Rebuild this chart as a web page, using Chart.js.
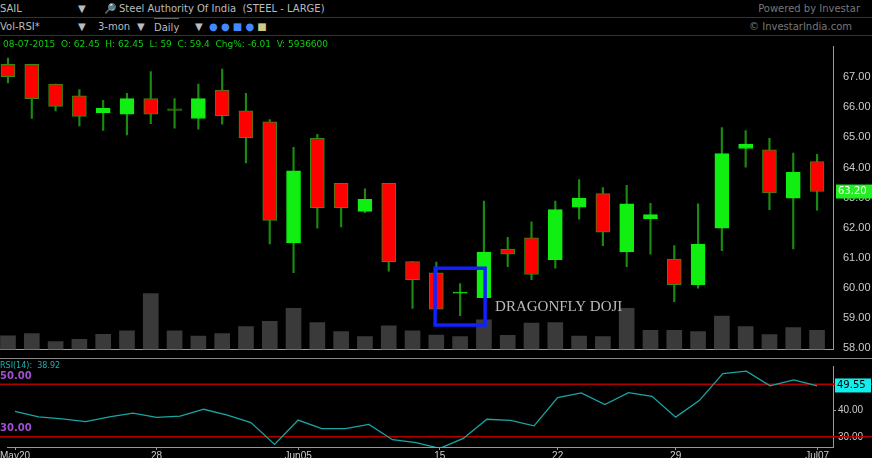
<!DOCTYPE html>
<html><head><meta charset="utf-8">
<script src="https://cdn.jsdelivr.net/npm/chart.js@4/dist/chart.umd.min.js"></script>
<style>
body{margin:0;background:#000;width:872px;height:458px;overflow:hidden;font-family:"DejaVu Sans",sans-serif;position:relative}
.hdr{position:absolute;left:0;width:872px;height:17px;background:#000;color:#bbb;font-size:10px;line-height:17px;border-bottom:1px solid #333}
.hdr span{position:absolute;top:0}
#c1{position:absolute;left:0;top:38px}
#c2{position:absolute;left:0;top:358px}
.ov{position:absolute;font-size:9px;white-space:pre}
</style></head><body>
<div class="hdr" style="top:0"><span style="left:0">SAIL</span><span style="left:78px">▼</span><span style="left:104px">🔎</span><span style="left:119px">Steel Authority Of India&nbsp; (STEEL - LARGE)</span><span style="right:12px;color:#777">Powered by Investar</span></div>
<div class="hdr" style="top:18px"><span style="left:0">Vol-RSI*</span><span style="left:78px">▼</span><span style="left:98px">3-mon</span><span style="left:137px">▼</span><span style="left:154px;border-top:1px solid #666">Daily</span><span style="left:195px">▼</span><span style="left:209px;color:#48f">●&nbsp;●&nbsp;■&nbsp;●&nbsp;<span style="color:#cc8">■</span></span><span style="right:20px;color:#777">© InvestarIndia.com</span></div>
<canvas id="c1" width="872" height="320"></canvas>
<canvas id="c2" width="872" height="104"></canvas>
<div class="ov" style="left:3px;top:39px;color:#1c1">08-07-2015  O: 62.45  H: 62.45  L: 59  C: 59.4  Chg%: -6.01  V: 5936600</div>
<script>
const opens  =[67.43,67.43,66.77,66.38,65.82,65.77,66.29,65.95,65.63,66.57,65.88,65.52,61.49,64.97,63.47,62.54,63.47,60.87,60.50,59.82,59.67,61.29,61.66,60.93,62.68,63.13,61.19,62.30,60.95,60.10,61.98,64.63,64.59,62.98,64.20];
const closes =[67.02,66.29,66.03,65.70,65.97,66.29,65.77,65.90,66.29,65.72,64.99,62.24,63.89,62.66,62.66,62.94,60.87,60.27,59.29,59.86,61.19,61.12,60.44,62.60,62.98,61.85,62.79,62.43,60.10,61.45,64.46,64.78,63.15,63.84,63.20];
const highs  =[67.64,67.43,66.77,66.59,66.23,66.47,67.19,66.29,66.77,67.27,66.47,65.59,64.67,65.10,63.47,63.29,63.47,60.87,60.85,60.14,62.88,61.68,62.19,62.88,63.60,63.33,63.41,62.81,61.40,62.79,65.33,65.23,64.97,64.48,64.44];
const lows   =[66.81,65.63,65.88,65.38,65.23,65.08,65.46,65.31,65.27,65.44,64.15,61.46,60.50,61.98,62.02,62.50,60.55,59.31,59.29,59.07,59.67,60.70,60.27,60.65,62.28,61.40,60.70,61.12,59.54,59.99,61.23,64.01,62.60,61.29,62.58];
const volumes=[3.5,4.1,2.0,2.6,3.9,4.8,14.4,4.8,3.4,4.1,5.9,7.2,10.6,6.9,4.6,3.3,6.1,4.8,3.7,3.3,7.6,3.6,6.8,6.9,3.4,3.3,10.6,4.9,4.9,4.6,8.6,5.9,3.8,5.6,4.9];
const rsi    =[39.7,37.6,36.8,35.8,37.6,39.0,37.4,37.9,40.5,38.3,35.4,27.1,36.4,33.1,33.1,34.7,28.9,27.8,25.6,29.4,36.7,36.3,34.2,44.9,46.7,42.3,46.8,45.4,37.5,43.8,54.1,55.0,49.4,51.7,49.4];
const dateTickIdx=[0,6,12,18,23,28,34];
const dateTickLabels=["May20","28","Jun05","15","22","29","Jul07"];
const priceTicks=[58,59,60,61,62,63,64,65,66,67];
const rsiTicks=[30,40,50];
const rsiLevels=[50,30];
const lastPrice=63.20, lastRsi=49.55;
const dojiBox={x0:17.95,x1:20.05,y0:60.65,y1:58.76,label:"DRAGONFLY DOJI"};

const idx=opens.map((_,i)=>i);
const up=idx.map(i=>closes[i]>=opens[i]);
const XMIN=-0.336, XMAX=34.67, AXW=39;
const fitW=s=>{s.width=AXW;};

const boxPlugin={id:'box',afterDatasetsDraw(ch){
  const {ctx,scales:{x,y}}=ch;
  const a=x.getPixelForValue(dojiBox.x0),b=x.getPixelForValue(dojiBox.x1);
  const t=y.getPixelForValue(dojiBox.y0),u=y.getPixelForValue(dojiBox.y1);
  ctx.save();ctx.strokeStyle='#1020ff';ctx.lineWidth=3.5;ctx.strokeRect(a,t,b-a,u-t);
  ctx.fillStyle='#bbb';ctx.font='15px "Liberation Serif",serif';ctx.textBaseline='middle';
  ctx.fillText(dojiBox.label,b+10,y.getPixelForValue(59.35));
  const py=y.getPixelForValue(lastPrice);
  ctx.fillStyle='#22ee22';ctx.fillRect(x.right+3,py-7,36,14);
  ctx.fillStyle='#fff';ctx.font='10px "DejaVu Sans"';ctx.fillText(lastPrice.toFixed(2),x.right+5,py);
  ctx.restore();}};

new Chart(document.getElementById('c1'),{
 data:{datasets:[
  {type:'bar',data:idx.map(i=>({x:i,y:[opens[i],closes[i]]})),backgroundColor:idx.map(i=>up[i]?'#11ee11':'#ff0000'),borderColor:idx.map(i=>up[i]?'#11ee11':'#3a8a10'),borderWidth:1,borderSkipped:false,barThickness:14,grouped:false,order:1,yAxisID:'y'},
  {type:'bar',data:idx.map(i=>({x:i,y:[lows[i],highs[i]]})),backgroundColor:'#1a8a10',barThickness:1.5,grouped:false,order:2,yAxisID:'y'},
  {type:'bar',data:idx.map(i=>({x:i,y:volumes[i]})),backgroundColor:'#3a3a3a',barThickness:15,grouped:false,order:3,yAxisID:'yv'}
 ]},
 options:{responsive:false,animation:false,events:[],layout:{padding:0},
  plugins:{legend:{display:false},tooltip:{enabled:false}},
  scales:{
   x:{type:'linear',offset:false,min:XMIN,max:XMAX,display:true,grid:{display:false},ticks:{display:false},border:{color:'#999'}},
   y:{position:'right',min:57.95,max:68.02,afterFit:fitW,afterBuildTicks:s=>{s.ticks=priceTicks.map(v=>({value:v}));},
      ticks:{color:'#ccc',font:{size:11},padding:2,callback:v=>v.toFixed(2)},grid:{display:false,drawOnChartArea:false},border:{color:'#999'}},
   yv:{display:false,min:0,max:78}
  }},
 plugins:[boxPlugin]
});

const rsiPlugin={id:'rsi',beforeDatasetsDraw(ch){
  const {ctx,scales:{x,y}}=ch;ctx.save();
  ctx.strokeStyle='#b00000';ctx.lineWidth=1.5;
  rsiLevels.forEach(v=>{const p=y.getPixelForValue(v);ctx.beginPath();ctx.moveTo(0,p);ctx.lineTo(872,p);ctx.stroke();
   ctx.fillStyle='#a050d0';ctx.font='bold 10px "DejaVu Sans"';ctx.textBaseline='bottom';ctx.fillText(v.toFixed(2),0,p-3);});
  ctx.fillStyle='#20b0b0';ctx.font='8px "DejaVu Sans"';ctx.textBaseline='top';ctx.fillText('RSI(14):  38.92',0,4);
  ctx.strokeStyle='#888';ctx.lineWidth=1;ctx.beginPath();ctx.moveTo(0,0.5);ctx.lineTo(872,0.5);ctx.stroke();
  ctx.restore();},
 afterDatasetsDraw(ch){const {ctx,scales:{x,y}}=ch;const p=y.getPixelForValue(lastRsi);ctx.save();
  ctx.fillStyle='#11eeee';ctx.fillRect(x.right+2,p-7,36,14);ctx.fillStyle='#000';ctx.font='10px "DejaVu Sans"';ctx.textBaseline='middle';ctx.fillText(lastRsi.toFixed(2),x.right+4,p);ctx.restore();}};

new Chart(document.getElementById('c2'),{
 type:'line',
 data:{datasets:[{data:idx.map(i=>({x:i,y:rsi[i]})),borderColor:'#1aa5a5',borderWidth:1.3,pointRadius:0,tension:0}]},
 options:{responsive:false,animation:false,events:[],layout:{padding:{top:2}},
  plugins:{legend:{display:false},tooltip:{enabled:false}},
  scales:{
   x:{type:'linear',min:XMIN,max:XMAX,afterBuildTicks:s=>{s.ticks=dateTickIdx.map(v=>({value:v}));},
      ticks:{color:'#ccc',font:{size:10},padding:0,maxRotation:0,autoSkip:false,callback:v=>dateTickLabels[dateTickIdx.indexOf(v)]},
      grid:{display:true,drawOnChartArea:false,color:'#999',tickLength:3},border:{color:'#999'}},
   y:{position:'right',min:26.13,max:56.96,afterFit:fitW,afterBuildTicks:s=>{s.ticks=rsiTicks.map(v=>({value:v}));},
      ticks:{color:'#ccc',font:{size:10},padding:2,callback:v=>v.toFixed(2)},grid:{display:true,drawOnChartArea:false,color:'#999',tickLength:3},border:{color:'#999'}}
  }},
 plugins:[rsiPlugin]
});
</script></body></html>
